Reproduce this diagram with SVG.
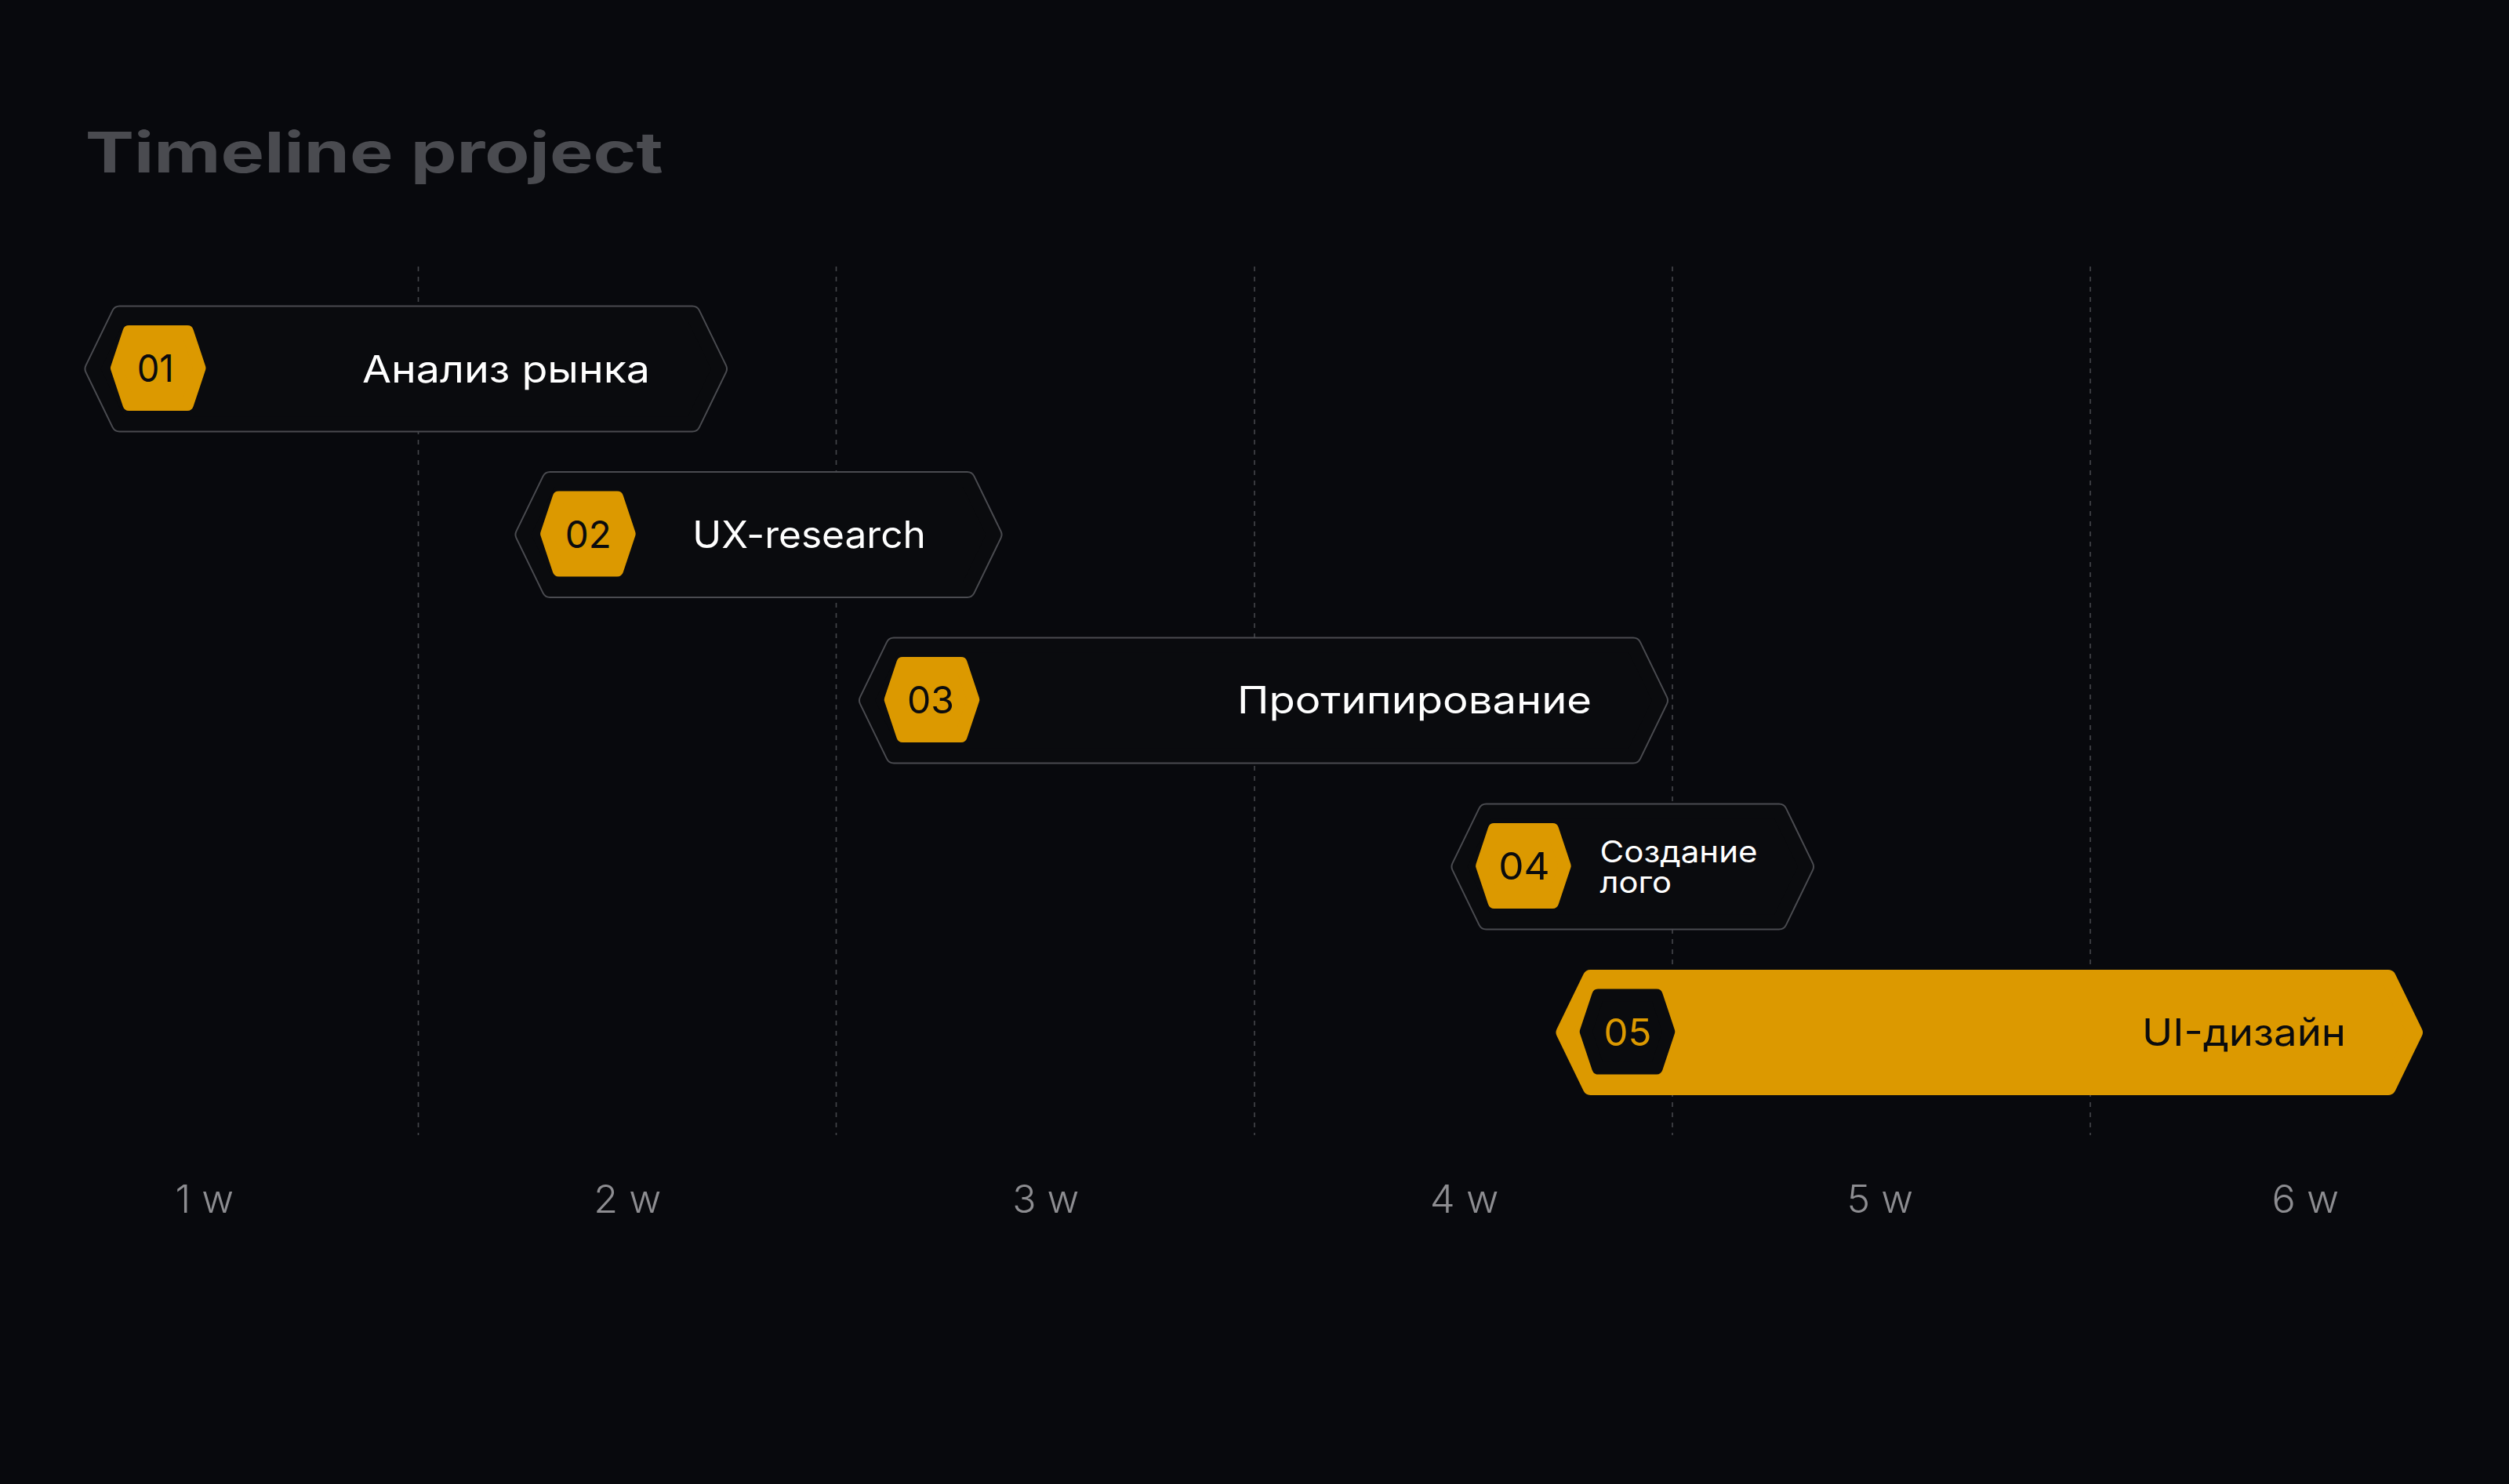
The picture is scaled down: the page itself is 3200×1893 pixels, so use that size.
<svg xmlns="http://www.w3.org/2000/svg" width="3200" height="1893" viewBox="0 0 3200 1893">
  <defs>
    <style>
      .bg { fill: #08090d; }
      .grid line { stroke: #45464b; stroke-width: 1.6; stroke-dasharray: 6 7; }
      .title { font-family: Inter, "Liberation Sans", sans-serif; font-weight: 700; font-size: 72px; fill: #4a4b50; }
      .edge { fill: #4a4b50; stroke: #4a4b50; stroke-width: 22; stroke-linejoin: round; }
      .body { fill: #0a0b0e; stroke: #0a0b0e; stroke-width: 18; stroke-linejoin: round; }
      .body-hot { fill: #dc9900; stroke: #dc9900; stroke-width: 20; stroke-linejoin: round; }
      .badge { fill: #dc9900; stroke: #dc9900; stroke-width: 16; stroke-linejoin: round; }
      .badge-dark { fill: #0a0b0e; stroke: #0a0b0e; stroke-width: 16; stroke-linejoin: round; }
      .num { font-family: Inter, "Liberation Sans", sans-serif; font-weight: 400; font-size: 48px; fill: #0a0b0e; text-anchor: middle; }
      .num-hot { fill: #dc9900; }
      .label { font-family: Inter, "Liberation Sans", sans-serif; font-weight: 400; font-size: 48px; fill: #ffffff; }
      .label-sm { font-size: 38px; }
      .label-dark { fill: #0a0b0e; }
      .week { font-family: Inter, "Liberation Sans", sans-serif; font-weight: 300; font-size: 49px; fill: #8d8d91; }
    </style>
    <polygon id="hex" points="-52.75,0 -37.25,-46.5 37.25,-46.5 52.75,0 37.25,46.5 -37.25,46.5"/>
  </defs>

  <rect class="bg" x="0" y="0" width="3200" height="1893"/>

  <text class="title" x="108.7" y="220" textLength="737" lengthAdjust="spacingAndGlyphs">Timeline project</text>

  <g id="grid" class="grid">
    <line x1="533.5" y1="340" x2="533.5" y2="1448"/>
    <line x1="1066.5" y1="340" x2="1066.5" y2="1448"/>
    <line x1="1600" y1="340" x2="1600" y2="1448"/>
    <line x1="2133" y1="340" x2="2133" y2="1448"/>
    <line x1="2666" y1="340" x2="2666" y2="1448"/>
  </g>

  <g id="node-01">
    <polygon class="edge" points="118.5,470.5 152.5,400.5 883,400.5 917,470.5 883,540.5 152.5,540.5"/>
    <polygon class="body" points="118.5,470.5 152.5,400.5 883,400.5 917,470.5 883,540.5 152.5,540.5"/>
    <use href="#hex" class="badge" x="201.7" y="469.5"/>
    <text class="num" x="198.3" y="487" textLength="47" lengthAdjust="spacingAndGlyphs">01</text>
    <text class="label" x="462" y="488" textLength="367" lengthAdjust="spacingAndGlyphs">Анализ рынка</text>
  </g>

  <g id="node-02">
    <polygon class="edge" points="667.5,682 701.5,612 1233.5,612 1267.5,682 1233.5,752 701.5,752"/>
    <polygon class="body" points="667.5,682 701.5,612 1233.5,612 1267.5,682 1233.5,752 701.5,752"/>
    <use href="#hex" class="badge" x="749.9" y="681"/>
    <text class="num" x="750.3" y="698.5" textLength="59" lengthAdjust="spacingAndGlyphs">02</text>
    <text class="label" x="883.3" y="699" textLength="297.5" lengthAdjust="spacingAndGlyphs">UX-research</text>
  </g>

  <g id="node-03">
    <polygon class="edge" points="1106,893.5 1140,823.5 2083,823.5 2117,893.5 2083,963.5 1140,963.5"/>
    <polygon class="body" points="1106,893.5 1140,823.5 2083,823.5 2117,893.5 2083,963.5 1140,963.5"/>
    <use href="#hex" class="badge" x="1188.5" y="892.5"/>
    <text class="num" x="1187" y="910" textLength="60" lengthAdjust="spacingAndGlyphs">03</text>
    <text class="label" x="1578" y="910" textLength="452" lengthAdjust="spacingAndGlyphs">Протипирование</text>
  </g>

  <g id="node-04">
    <polygon class="edge" points="1861.5,1105.5 1895.5,1035.5 2269,1035.5 2303,1105.5 2269,1175.5 1895.5,1175.5"/>
    <polygon class="body" points="1861.5,1105.5 1895.5,1035.5 2269,1035.5 2303,1105.5 2269,1175.5 1895.5,1175.5"/>
    <use href="#hex" class="badge" x="1942.9" y="1104.5"/>
    <text class="num" x="1944" y="1122" textLength="65.5" lengthAdjust="spacingAndGlyphs">04</text>
    <text class="label label-sm" x="2040.6" y="1100" textLength="201" lengthAdjust="spacingAndGlyphs">Создание</text>
    <text class="label label-sm" x="2040.6" y="1139" textLength="91.5" lengthAdjust="spacingAndGlyphs">лого</text>
  </g>

  <g id="node-05">
    <polygon class="body-hot" points="1994.5,1317 2028.5,1247 3046,1247 3080,1317 3046,1387 2028.5,1387"/>
    <use href="#hex" class="badge-dark" x="2075.5" y="1316"/>
    <text class="num num-hot" x="2076" y="1333.5" textLength="61" lengthAdjust="spacingAndGlyphs">05</text>
    <text class="label label-dark" x="2732" y="1334" textLength="260" lengthAdjust="spacingAndGlyphs">UI-дизайн</text>
  </g>

  <g id="weeks">
    <text class="week" x="223.4" y="1546.5" textLength="74.6" lengthAdjust="spacingAndGlyphs">1 w</text>
    <text class="week" x="757.3" y="1546.5" textLength="86" lengthAdjust="spacingAndGlyphs">2 w</text>
    <text class="week" x="1291.2" y="1546.5" textLength="85" lengthAdjust="spacingAndGlyphs">3 w</text>
    <text class="week" x="1823.7" y="1546.5" textLength="87.6" lengthAdjust="spacingAndGlyphs">4 w</text>
    <text class="week" x="2355.5" y="1546.5" textLength="84.5" lengthAdjust="spacingAndGlyphs">5 w</text>
    <text class="week" x="2897.4" y="1546.5" textLength="85.6" lengthAdjust="spacingAndGlyphs">6 w</text>
  </g>
</svg>
